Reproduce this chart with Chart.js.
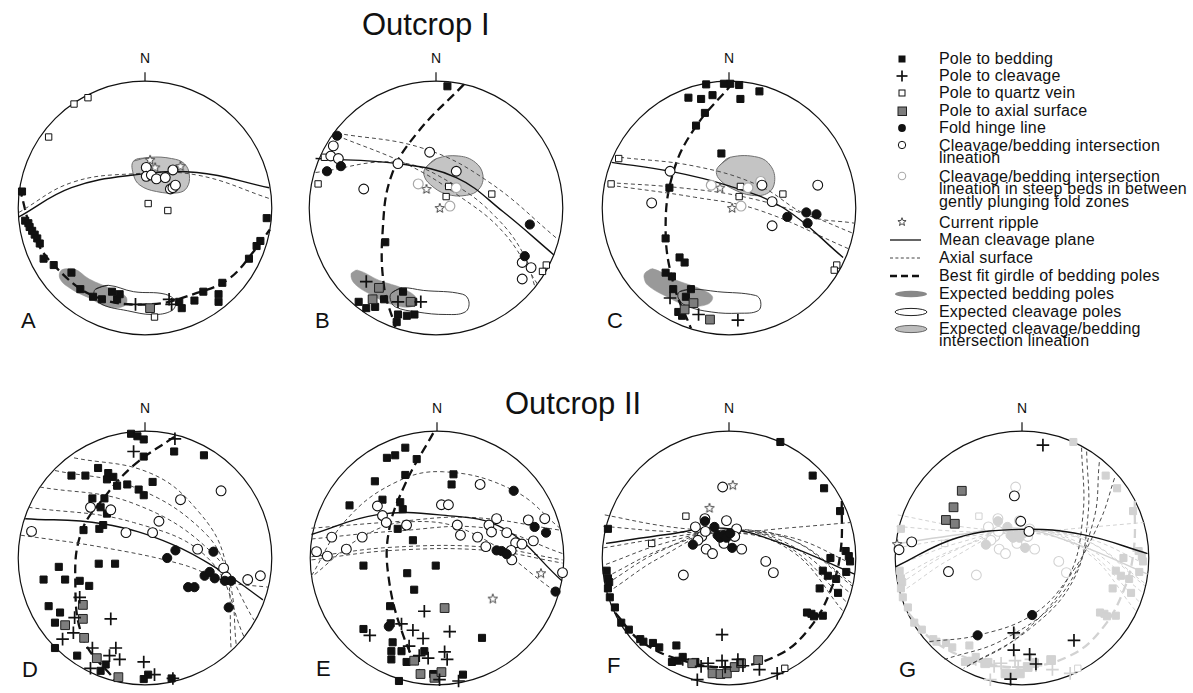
<!DOCTYPE html>
<html><head><meta charset="utf-8">
<script src="https://cdn.jsdelivr.net/npm/chart.js@4/dist/chart.umd.min.js"></script>
<style>
body{margin:0;width:1193px;height:693px;position:relative;background:#fff;overflow:hidden;font-family:"Liberation Sans",Arial,Helvetica,sans-serif;color:#111}
.net{position:absolute;width:300px;height:300px}
.t{position:absolute;white-space:nowrap;line-height:1}
.title{font-size:31px}
.let{font-size:22px}
.n{font-size:14px;transform:translateX(-50%)}
.lg{position:absolute;left:939px;font-size:16px;letter-spacing:0.2px;line-height:18px;white-space:nowrap}
svg{position:absolute;left:0;top:0}
</style></head><body>
<script>
// ---------- DATA (stereonet coordinates, radius = 100) ----------
// Net A
const A_bed=[[-97,13],[-94.5,-10],[-92,-12],[-91,-15],[-89,-18],[-87,-21],[-85,-24],[-83,-28],[-80,-40],[-72,-45],[-58,-51],[-51,-64],[-41,-70],[-34,-72],[-26,-66],[-22,-72],[-20,-68],[27,-74],[29,-79],[39,-73],[46,-66],[58,-68],[58,-74],[61,-59],[82,-40],[88,-30],[91,-26],[96,-8]];
const A_clv=[[-7.5,-76],[19,-72],[21,-76]];
const A_axp=[[4,-79]];
const A_qtz=[[-56,82],[-45,87],[-76,56],[2.5,3.5],[18,-2],[7.5,-86]];
const A_lin=[[1,32],[1,25],[5,26],[9,23],[16,24],[22,30],[20,15],[22,16],[24,18]];
const A_rip=[[4,38],[8,32],[28,33]];
const A_mean=[[-99.5,-7],[-58,16],[-9,26],[41,28],[98,16]];
const A_axs=[[[-99.5,-3.5],[-58,20],[-9,27],[41,26],[99.5,7]]];
const A_gir=[[-99,16],[-88,-21],[-71,-46],[-39,-70],[4,-76],[41,-67],[66,-56],[86,-34],[98.5,-17]];
const A_eBed=[[-66,-49],[-56,-48],[-44,-56],[-26,-64],[-15,-70],[-16,-77],[-29,-78],[-44,-71],[-58,-64],[-67,-56]];
const A_eClv=[[-39,-64],[-29,-61],[-9,-66],[16,-68],[24,-74],[21,-81],[6,-84],[-14,-81],[-34,-76],[-40,-69]];
const A_eLin=[[-9,37],[4,40],[21,39],[31,35],[35,26],[33,16],[26,12],[9,13],[-4,18],[-9,26]];
// Net B
const B_bed=[[9,96],[-40,-27],[-61,-74],[-55,-79],[-48,-78],[-41,-72],[-26,-66],[-18,-74],[-30,-84],[-23,-85],[-17,-84],[-31,-90]];
const B_hin=[[-78,57],[-86,29],[-75,33],[74,-13],[70,-38]];
const B_lin=[[-81,49],[-83,41],[-77,39],[-30,35],[-57,15],[-5,44],[16,29],[68,-43],[75,-47],[68,-56]];
const B_linG=[[-14,19],[16,16],[11,1.5]];
const B_rip=[[-7.5,15],[3,0]];
const B_qtz=[[-88,40],[-93,19],[10,17],[8,9],[44,11],[87,-45],[84,-50]];
const B_clv=[[-55,-58],[-30,-74],[-12,-74]];
const B_axp=[[-45,-63],[-50,-72],[-20,-74]];
const B_mean=[[-95,39],[-30,35],[16,24],[53,-3],[93,-37]];
const B_axs=[[[-78,59],[-10,47],[41,21],[96.5,-25]],[[-95,28],[-30,36],[15,18],[48,-8],[70,-38],[78,-62]],[[-78,57],[-22,34],[16,11],[53,-19],[80,-60]]];
const B_gir=[[22,97.5],[-15,59],[-35,26],[-42,-17],[-41,-62],[-32,-94]];
const B_eBed=[[-67,-52],[-62,-49],[-45,-57],[-25,-64],[-15,-72],[-20,-78],[-35,-76],[-50,-69],[-64,-60]];
const B_eClv=[[-35,-67],[-27,-63],[-10,-65],[21,-68],[26,-74],[23,-82],[8,-84],[-15,-82],[-32,-78],[-36,-72]];
const B_eLin=[[-8,32],[0.5,39],[18,41],[31,36],[37,26],[34,15],[24,10],[8,11],[-4.5,18.5],[-9.5,26]];
// Net C
const C_bed=[[-18,97.5],[-4,98],[1,98],[8,97],[24,92],[-32,87],[-22,86],[-13,89],[9,86],[-19,75],[-26,65],[-6,43],[-47,16],[-50,-24],[-39,-39],[-35,-43],[-50,-51],[-45,-54],[-44,-64],[-30,-64],[-34,-70],[-40,-82],[-37,-85]];
const C_hin=[[61,-3.5],[69,-5],[46,-7],[62,-12]];
const C_lin=[[-46.5,29],[-61,4],[26,18],[34,5],[34,-14],[70,18]];
const C_linG=[[-14,18],[15,16],[9.5,1.5],[25,21]];
const C_rip=[[-7,16],[2.5,0]];
const C_qtz=[[-87,39],[-93,19],[9,17],[8,9],[42.5,11],[85,-45],[83,-49]];
const C_axp=[[-28,-75],[-15,-88],[-35,-80]];
const C_clv=[[-46.5,-71],[7,-88.5],[-24,-84]];
const C_mean=[[-92.5,36],[-46.5,29],[-2,18],[43,0],[90,-39]];
const C_axs=[[[-86,40],[-27,33],[23,18],[63,-6],[99,-12]],[[-94,20],[-39,16],[13,8.5],[63,-6],[98,-20]],[[-94,18],[-27,8.5],[23,-1.5],[94,-32]]];
const C_gir=[[3,98.5],[-27,63],[-44,28],[-50,-16],[-44,-59],[-30,-95]];
const C_eBed=[[-66,-51],[-60,-48],[-44,-56],[-22,-64],[-13,-70],[-17,-76],[-32,-77],[-49,-70],[-64,-61],[-67,-55]];
const C_eClv=[[-39,-66],[-29,-64],[-9,-66],[21,-69],[25,-74],[23,-81],[8,-83],[-14,-82],[-34,-77],[-40,-71]];
const C_eLin=[[-8,33],[1,40],[23,40],[33,33],[36,21],[31,12],[18,10],[3,15],[-7,22],[-10,28]];
// Net D
const D_bed=[[-11,98],[-6,96],[-1,93.5],[-1,80],[23,84],[46.5,81],[-37,71],[-58,65],[-47,65],[-29,67],[-25,64],[-30,62],[-22,57],[-14,58],[-5,54],[-1,49.5],[6,60],[-41.5,47],[-32,47],[-35,40],[-30,35],[-33,26],[-36,23],[-48.5,22],[-36.5,-4.5],[-23.6,-4.5],[-68,-7],[-80,-17],[-63,-17],[-51.5,-18],[-44,-22],[-76,-38],[-67,-43],[-71,-51],[-71,-71],[-53.5,-77],[-35,-89],[-31,-84],[2.5,-92],[-1,-95.5],[21,-95]];
const D_hin=[[24,6],[17.5,0],[54,5],[34,-23],[39,-23],[47,-14],[51,-11],[55,-16],[63,-18],[68,-18],[66,-39]];
const D_lin=[[60,53],[28,46],[11,29],[-15,20],[6,20],[41.5,7],[62,-8],[64,-15],[81,-17],[91,-14],[-89.5,21],[-43,40],[-27,38]];
const D_clv=[[23.6,94],[-9,84],[-51.5,-31],[-55.5,-47],[-56.5,-59],[-65,-64],[-41.5,-71],[-23,-71],[-28,-77],[-20,-80],[-1,-82],[7.5,-92],[22,-95],[-27,-48],[-43,-87]];
const D_axp=[[-49,-37],[-49,-48],[-63,-53],[-48,-63],[-38,-79],[-21,-94]];
const D_mean=[[-94.5,31],[-33.6,27],[21,11],[66,-14],[93,-33]];
const D_axs=[[[-56,79],[4,67],[41,38],[63,-1.5],[68,-73]],[[-71,69],[-9,56],[46,21],[66,-16],[72,-69]],[[-83,56],[-9,43],[53.5,3.5],[86,-49]],[[-92,40],[-9,28],[51,-1.5],[78,-62]],[[-98,18],[-34,8.5],[29,-5],[66,-19],[97,-23]]];
const D_gir=[[23,95.5],[-9,73],[-33.6,46],[-50,21],[-55,-16],[-48.5,-64],[-23,-97]];
// Net E
const E_bed=[[-39.5,79],[-33,81],[-25,87],[-16,78],[-49,60.5],[-25,65.5],[-43,46],[-69,41.5],[13,66],[11.5,58],[-29,44],[-27,38.5],[-31,23],[-19,14],[-58,-6],[-23.5,-12],[-1,-6],[-18,-25],[-37,-38],[-36.5,-51.5],[-58,-56],[-35,-66.5],[-36,-73.5],[-36,-80],[-28,-73.5],[-10,-73.5],[-24,-82],[-30,-97],[-3,-91.5],[20.5,-92],[35.5,-63]];
const E_hin=[[60.5,53],[77,24.5],[86,20],[47,6],[51,5.5],[55,3],[93.5,-26.5],[-38,-54]];
const E_lin=[[34,58],[3.5,42],[9,42],[-47,41],[-43,33.5],[-40,28],[-24,26],[16,26],[47,31],[41,26],[43,20.5],[55,20],[72,30],[85,31],[76,13.5],[18.5,18],[32,16.5],[38.5,9],[62,12],[67,11],[58.5,6],[59,-1.5],[-83,16.5],[-59,16.5],[-71.5,7],[-86.5,1.5],[-95,5],[99,-11.5]];
const E_rip=[[82,-12],[44,-32]];
const E_clv=[[-10,-42],[-53,-61],[-28,-52],[-19,-57],[-11,-63.5],[10,-58],[-22,-69.5],[-14,-77],[-7,-79],[6,-74],[8,-80],[2,-96],[17,-97]];
const E_axp=[[6,-39.5],[-18,-81],[-13,-91.5],[-2,-94.5],[3.5,-90]];
const E_mean=[[-99,18.5],[-48,34],[2,34],[52,23.5],[98.5,-18]];
const E_axs=[[[-99,-14],[-73,28.5],[-35,58.5],[5,68],[60,53.5],[97,23.5]],[[-99,23.5],[-35,28.5],[27,32],[97,22]],[[-99,15],[-35,21],[40,23.5],[99,3.5]],[[-99,1],[-35,8.5],[40,8.5],[99,-1.5]],[[-99,-1.5],[-35,6],[40,6],[99,-4]],[[-96.5,-13],[-60,16],[-23,28.5],[27,20],[93.5,-26.5]]];
const E_gir=[[-3,98.5],[-25,58.5],[-38,21],[-38,-16.5],[-26.5,-61.5],[-10,-96.5]];
// Net F
const F_bed=[[40.5,91.5],[66,65],[75,55],[87.6,37],[-95.5,23],[-96.5,-10],[-95.5,-16],[-94.5,-19],[-95.5,-24],[-94,-31],[-90,-39],[-85,-51],[-79,-56.5],[-70,-64],[-67.5,-66],[-60,-67],[-55,-70.5],[-41.5,-69],[-45,-82],[-40,-81],[-36.5,-78],[-26.5,-82],[92,5.5],[94.5,1.5],[95.5,-2.7],[80,0],[92.5,-11],[74,-10],[78,-14],[84.5,-16.5],[71.5,-24],[86,-27.5],[61.5,-43],[65,-44],[67,-46],[74,-45.5]];
const F_hin=[[-19,29],[-11.5,24.5],[-9,18],[-7,16],[-4,18],[-2,16],[1,19.5],[-28.5,10.5],[2.5,8]];
const F_lin=[[-5,56],[-26.5,24.5],[-19,31],[-21.5,17],[-18,7],[-13,3.5],[-2,29.5],[6,23],[4.5,17],[-4,11.5],[10,7],[29,-2.7],[35,-11.5],[-36,-13.4],[-24.5,14],[-18.6,21]];
const F_rip=[[3,57.5],[-15.4,39.5]];
const F_qtz=[[-34,33],[-61,11.5],[44,-87]];
const F_clv=[[-5.5,-60.5],[-36.5,-80],[-22,-85.5],[-25,-96],[-5.5,-81],[-3,-86],[7,-80],[11,-85],[24,-88],[38,-91],[-16.5,-83]];
const F_axp=[[-13,-91],[-6.7,-91.5],[-1.7,-91],[4.5,-86],[9.5,-83],[23,-80.5],[-29,-83]];
const F_mean=[[-97,11.5],[-49,18.5],[-4,23.5],[43,11],[99,-12.7]];
const F_axs=[[[-98,34],[-50,25],[0,20],[50,14],[97,-20]],[[-99,25],[-50,21],[0,20],[50,24],[96,28]],[[-99,8],[-50,16],[0,21],[50,16],[98,-5]],[[-97,-5],[-50,12],[0,22],[50,14],[97,-22]],[[-96,-20],[-55,5],[-5,22],[45,10],[93,-35]],[[-91,-24],[-55,0],[-5,22],[45,12],[96,-28]],[[-97,-15],[-50,8],[0,20],[50,5],[90,-42]]];
const F_gir=[[89,45],[88,5],[80,-26],[63,-56],[38,-77],[1,-86],[-36,-81],[-69,-66],[-90,-43]];
// Net G
const G_clv=[[16.5,89],[-6.5,-59],[-6.5,-72.6],[6,-76],[11,-83.6],[41,-65],[-9,-95.5]];
const G_axp=[[-47.5,53],[-54,40],[-60,30],[-53,27]];
const G_lin=[[-6,49],[-1,29],[5.5,21],[-87,12.7],[-97,6.5],[-58,-10.7]];
const G_rip=[[-98.5,11]];
const G_hin=[[8,-45],[-35,-61]];
const G_mean=[[-99.8,-7],[-51,16],[0,22.6],[48,18.4],[99,3.5]];
const G_axs=[[[73,63],[61,28],[36,-16.4],[8,-45],[-35,-61],[-73.6,-66]],[[61,75.6],[56,28],[31,-29],[-14,-64],[-61,-80]],[[51,84],[52,33],[41,-16.4],[6,-56],[-46,-87]],[[47,87],[48,33],[36,-16.4],[-1.5,-61],[-44,-86]]];

// Net centres on the page (px) and labels
const netCentres={A:[145,208],B:[436,208],C:[729,208],D:[145,558],E:[437,558],F:[729,558],G:[1022,558]};
const letterPos={A:[21,310],B:[315,310],C:[607,310],D:[22,659],E:[316,658],F:[607,655],G:[899,659]};
const legendRows=[["Pole to bedding",59],["Pole to cleavage",76],["Pole to quartz vein",93],["Pole to axial surface",111],["Fold hinge line",128],["Cleavage/bedding intersection",146],["lineation",158],["Cleavage/bedding intersection",177],["lineation in steep beds in between",189],["gently plunging fold zones",202],["Current ripple",223],["Mean cleavage plane",240],["Axial surface",258],["Best fit girdle of bedding poles",276],["Expected bedding poles",294],["Expected cleavage poles",312],["Expected cleavage/bedding",329],["intersection lineation",341]];
</script>

<div class="t title" style="left:362px;top:9px">Outcrop I</div>
<div class="t title" style="left:505px;top:388px">Outcrop II</div>
<div id="labels"></div>
<svg width="1193" height="693" id="lgsvg">
 <rect x="898.5" y="55.5" width="7" height="7" fill="#111"/>
 <line x1="896.5" y1="76" x2="907.5" y2="76" stroke="#111" stroke-width="1.7"/><line x1="902" y1="70.5" x2="902" y2="81.5" stroke="#111" stroke-width="1.7"/>
 <rect x="899" y="90" width="6" height="6" fill="#fff" stroke="#111" stroke-width="1"/>
 <rect x="898" y="107" width="8.5" height="8.5" fill="#7d7d7d" stroke="#222" stroke-width="1"/>
 <circle cx="902" cy="128" r="3.9" fill="#111"/>
 <circle cx="902" cy="145" r="3.7" fill="#fff" stroke="#111" stroke-width="1"/>
 <circle cx="902" cy="176" r="3.7" fill="#fff" stroke="#aaa" stroke-width="1.1"/>
 <polygon id="lstar" fill="#fff" stroke="#333" stroke-width="0.9"/>
 <line x1="890" y1="240" x2="921" y2="240" stroke="#111" stroke-width="1.3"/>
 <line x1="890" y1="258" x2="921" y2="258" stroke="#444" stroke-width="1" stroke-dasharray="3,2.4"/>
 <line x1="890" y1="276" x2="922" y2="276" stroke="#111" stroke-width="2.4" stroke-dasharray="7,4"/>
 <ellipse cx="911" cy="294" rx="16" ry="3.3" fill="#888"/>
 <ellipse cx="911" cy="312" rx="16" ry="3.6" fill="#fff" stroke="#222" stroke-width="1"/>
 <ellipse cx="911" cy="329" rx="16" ry="3.6" fill="#bdbdbd" stroke="#666" stroke-width="1"/>
</svg>
<canvas class="net" id="nA" width="300" height="300"></canvas>
<canvas class="net" id="nB" width="300" height="300"></canvas>
<canvas class="net" id="nC" width="300" height="300"></canvas>
<canvas class="net" id="nD" width="300" height="300"></canvas>
<canvas class="net" id="nE" width="300" height="300"></canvas>
<canvas class="net" id="nF" width="300" height="300"></canvas>
<canvas class="net" id="nG" width="300" height="300"></canvas>

<script>
(function(){
  const L=document.getElementById('labels');
  for(const k in netCentres){
    const [cx,cy]=netCentres[k];
    const c=document.getElementById('n'+k); c.style.left=(cx-150)+'px'; c.style.top=(cy-150)+'px';
    const n=document.createElement('div'); n.className='t n'; n.textContent='N'; n.style.left=cx+'px'; n.style.top=(cy-157)+'px'; L.appendChild(n);
    const l=document.createElement('div'); l.className='t let'; l.textContent=k; l.style.left=letterPos[k][0]+'px'; l.style.top=letterPos[k][1]+'px'; L.appendChild(l);
  }
  legendRows.forEach(([txt,y])=>{const d=document.createElement('div');d.className='lg';d.textContent=txt;d.style.top=(y-9)+'px';L.appendChild(d);});
  const pts=[];for(let i=0;i<10;i++){const a=-Math.PI/2+i*Math.PI/5;const r=i%2?1.8:4.3;pts.push((902+r*Math.cos(a)).toFixed(2)+','+(222+r*Math.sin(a)).toFixed(2));}
  document.getElementById('lstar').setAttribute('points',pts.join(' '));
})();

function starImage(col){
  const c=document.createElement('canvas'); c.width=12; c.height=12; const g=c.getContext('2d');
  g.beginPath(); for(let i=0;i<10;i++){const a=-Math.PI/2+i*Math.PI/5;const r=i%2?2.1:5;const x=6+r*Math.cos(a),y=6.3+r*Math.sin(a); i?g.lineTo(x,y):g.moveTo(x,y);} g.closePath();
  g.fillStyle='#fff'; g.fill(); g.strokeStyle=col; g.lineWidth=0.9; g.stroke(); return c;
}
const STAR=starImage('#333'), STARG=starImage('#cfcfcf');
const P=a=>a.map(([x,y])=>({x,y}));
const GH='#d2d2d2';
const STY={
  bed:{pointStyle:'rect',pointRadius:5,backgroundColor:'#111',borderColor:'#111',borderWidth:1},
  clv:{pointStyle:'cross',pointRadius:6.3,backgroundColor:'#111',borderColor:'#111',borderWidth:1.7},
  qtz:{pointStyle:'rect',pointRadius:4.5,backgroundColor:'#fff',borderColor:'#111',borderWidth:1},
  axp:{pointStyle:'rect',pointRadius:6.2,backgroundColor:'#7d7d7d',borderColor:'#222',borderWidth:1},
  hin:{pointStyle:'circle',pointRadius:4.6,backgroundColor:'#111',borderColor:'#111',borderWidth:1},
  lin:{pointStyle:'circle',pointRadius:4.9,backgroundColor:'#fff',borderColor:'#111',borderWidth:1.1},
  linG:{pointStyle:'circle',pointRadius:4.9,backgroundColor:'#fff',borderColor:'#a8a8a8',borderWidth:1.2},
  rip:{pointStyle:STAR,pointRadius:5,backgroundColor:'#fff',borderColor:'#333',borderWidth:1}
};
function pts(arr,kind,ghost){
  const s=Object.assign({},STY[kind]);
  if(ghost){ if(kind==='rip') s.pointStyle=STARG; else { s.backgroundColor=(s.backgroundColor==='#fff')?'#fff':GH; s.borderColor=GH; } }
  return Object.assign({type:'scatter',data:P(arr),showLine:false,clip:false,order:ghost?18:(kind==='bed'?2:1)},s);
}
const LST={
  mean:{borderColor:'#111',borderWidth:1.4,borderDash:[]},
  axs:{borderColor:'#4a4a4a',borderWidth:1,borderDash:[4,3]},
  gir:{borderColor:'#111',borderWidth:2.3,borderDash:[9,5]}
};
function line(arr,kind,ghost){
  const s=Object.assign({},LST[kind]); if(ghost){s.borderColor=GH;}
  return Object.assign({type:'line',data:P(arr),showLine:true,pointRadius:0,tension:0.4,fill:false,clip:false,order:ghost?19:5},s);
}
function lines(list,kind,ghost){return list.map(a=>line(a,kind,ghost));}
const BST={
  eBed:{backgroundColor:'#999',borderColor:'#999',borderWidth:0.5},
  eClv:{backgroundColor:'rgba(255,255,255,0)',borderColor:'#222',borderWidth:0.9},
  eLin:{backgroundColor:'#c4c4c4',borderColor:'#707070',borderWidth:1}
};
function blob(arr,kind){
  const d=arr.concat([arr[0],arr[1]]);
  return Object.assign({type:'line',data:P(d),showLine:true,pointRadius:0,tension:0.4,fill:'shape',clip:false,order:kind==='eClv'?8:10},BST[kind]);
}
const netFrame={id:'netFrame',beforeDatasetsDraw(chart){
  const {ctx,scales:{x,y}}=chart; const cx=x.getPixelForValue(0), cy=y.getPixelForValue(0); const r=x.getPixelForValue(100)-cx;
  ctx.save(); ctx.strokeStyle='#111'; ctx.lineWidth=1.2; ctx.beginPath(); ctx.arc(cx,cy,r,0,Math.PI*2); ctx.stroke();
  ctx.beginPath(); ctx.moveTo(cx,cy-r); ctx.lineTo(cx,cy-r-9); ctx.stroke(); ctx.restore();
}};
function makeNet(id,sets){
  new Chart(document.getElementById(id),{type:'scatter',data:{datasets:sets},
    options:{responsive:false,animation:false,events:[],devicePixelRatio:1,layout:{padding:0},
      plugins:{legend:{display:false},tooltip:{enabled:false}},
      scales:{x:{type:'linear',min:-112,max:112,display:false},y:{type:'linear',min:-112,max:112,display:false}}},
    plugins:[netFrame]});
}
makeNet('nA',[blob(A_eBed,'eBed'),blob(A_eClv,'eClv'),blob(A_eLin,'eLin'),line(A_mean,'mean'),...lines(A_axs,'axs'),line(A_gir,'gir'),
  pts(A_bed,'bed'),pts(A_clv,'clv'),pts(A_axp,'axp'),pts(A_qtz,'qtz'),pts(A_lin,'lin'),pts(A_rip,'rip')]);
makeNet('nB',[blob(B_eBed,'eBed'),blob(B_eClv,'eClv'),blob(B_eLin,'eLin'),line(B_mean,'mean'),...lines(B_axs,'axs'),line(B_gir,'gir'),
  pts(B_bed,'bed'),pts(B_hin,'hin'),pts(B_lin,'lin'),pts(B_linG,'linG'),pts(B_rip,'rip'),pts(B_qtz,'qtz'),pts(B_clv,'clv'),pts(B_axp,'axp')]);
makeNet('nC',[blob(C_eBed,'eBed'),blob(C_eClv,'eClv'),blob(C_eLin,'eLin'),line(C_mean,'mean'),...lines(C_axs,'axs'),line(C_gir,'gir'),
  pts(C_bed,'bed'),pts(C_hin,'hin'),pts(C_lin,'lin'),pts(C_linG,'linG'),pts(C_rip,'rip'),pts(C_qtz,'qtz'),pts(C_clv,'clv'),pts(C_axp,'axp')]);
makeNet('nD',[line(D_mean,'mean'),...lines(D_axs,'axs'),line(D_gir,'gir'),
  pts(D_bed,'bed'),pts(D_hin,'hin'),pts(D_lin,'lin'),pts(D_clv,'clv'),pts(D_axp,'axp')]);
makeNet('nE',[line(E_mean,'mean'),...lines(E_axs,'axs'),line(E_gir,'gir'),
  pts(E_bed,'bed'),pts(E_hin,'hin'),pts(E_lin,'lin'),pts(E_rip,'rip'),pts(E_clv,'clv'),pts(E_axp,'axp')]);
makeNet('nF',[line(F_mean,'mean'),...lines(F_axs,'axs'),line(F_gir,'gir'),
  pts(F_bed,'bed'),pts(F_hin,'hin'),pts(F_lin,'lin'),pts(F_rip,'rip'),pts(F_qtz,'qtz'),pts(F_clv,'clv'),pts(F_axp,'axp')]);
makeNet('nG',[line(F_mean,'mean',true),...lines(F_axs,'axs',true),line(F_gir,'gir',true),
  pts(F_bed,'bed',true),pts(F_hin,'hin',true),pts(F_lin,'lin',true),pts(F_qtz,'qtz',true),pts(F_clv,'clv',true),pts(F_axp,'axp',true),
  line(G_mean,'mean'),...lines(G_axs,'axs'),
  pts(G_clv,'clv'),pts(G_axp,'axp'),pts(G_lin,'lin'),pts(G_rip,'rip'),pts(G_hin,'hin')]);
</script>
</body></html>
